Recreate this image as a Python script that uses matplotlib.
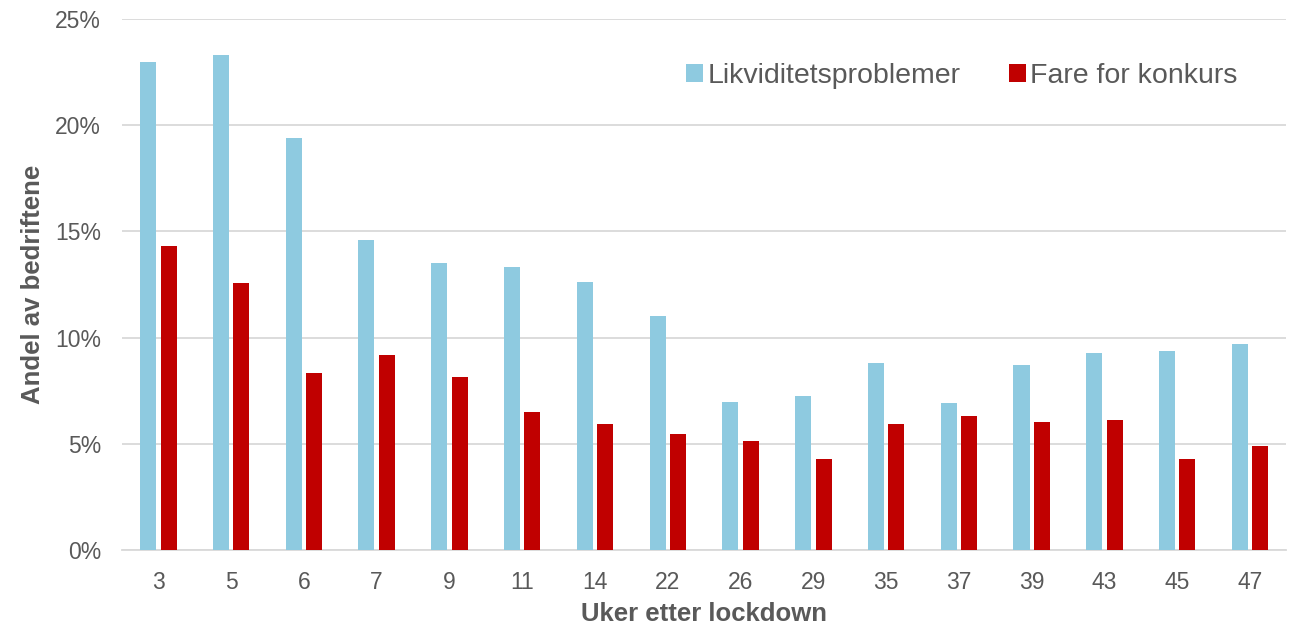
import numpy as np
import matplotlib
matplotlib.use("Agg")
import matplotlib.pyplot as plt
from matplotlib.ticker import PercentFormatter

# ── data ──
weeks = ["3", "5", "6", "7", "9", "11", "14", "22", "26", "29", "35", "37", "39", "43", "45", "47"]
likviditet = [22.97, 23.3, 19.4, 14.6, 13.5, 13.3, 12.6, 11.0, 6.95, 7.25, 8.8, 6.9, 8.7, 9.28, 9.38, 9.7]
konkurs = [14.3, 12.55, 8.35, 9.18, 8.15, 6.5, 5.93, 5.46, 5.13, 4.28, 5.93, 6.3, 6.03, 6.12, 4.28, 4.9]

BLUE = "#8ECAE0"
RED = "#C00000"
TEXT = "#595959"
GRID = "#D9D9D9"

plt.rcParams["font.family"] = ["Liberation Sans", "DejaVu Sans"]

fig = plt.figure(figsize=(12.89, 6.29), dpi=100)
ax = fig.add_axes([0.0946, 0.1256, 0.9034, 0.8444])

x = np.arange(len(weeks))
w = 0.22
ax.bar(x - w / 2 - 0.03, likviditet, width=w, color=BLUE, label="Likviditetsproblemer", zorder=3)
ax.bar(x + w / 2 + 0.03, konkurs, width=w, color=RED, label="Fare for konkurs", zorder=3)

ax.set_xlim(-0.5, len(weeks) - 0.5)
ax.set_ylim(0, 25)
ax.set_yticks(np.arange(0, 26, 5))
ax.yaxis.set_major_formatter(PercentFormatter(decimals=0))
ax.set_xticks(x)
ax.set_xticklabels(weeks)

ax.grid(axis="y", color=GRID, linewidth=1.3, zorder=0)
for s in ["top", "right", "left"]:
    ax.spines[s].set_visible(False)
ax.spines["bottom"].set_color(GRID)
ax.spines["bottom"].set_linewidth(1.3)
ax.tick_params(length=0, labelsize=16.5, colors=TEXT)
ax.tick_params(axis="x", pad=15)
ax.tick_params(axis="y", pad=15)

ax.set_xlabel("Uker etter lockdown", fontsize=18.5, fontweight="bold", color=TEXT, labelpad=6)
ax.set_ylabel("Andel av bedriftene", fontsize=18.5, fontweight="bold", color=TEXT)
ax.yaxis.set_label_coords(-0.066, 0.5)

leg = ax.legend(loc="center right", bbox_to_anchor=(0.958, 0.893), ncol=2, frameon=False,
                fontsize=20.5, handlelength=0.6, handleheight=0.6, handletextpad=0.15,
                columnspacing=1.7, labelcolor=TEXT, borderpad=0, borderaxespad=0)

fig.savefig("out.png", dpi=100)
